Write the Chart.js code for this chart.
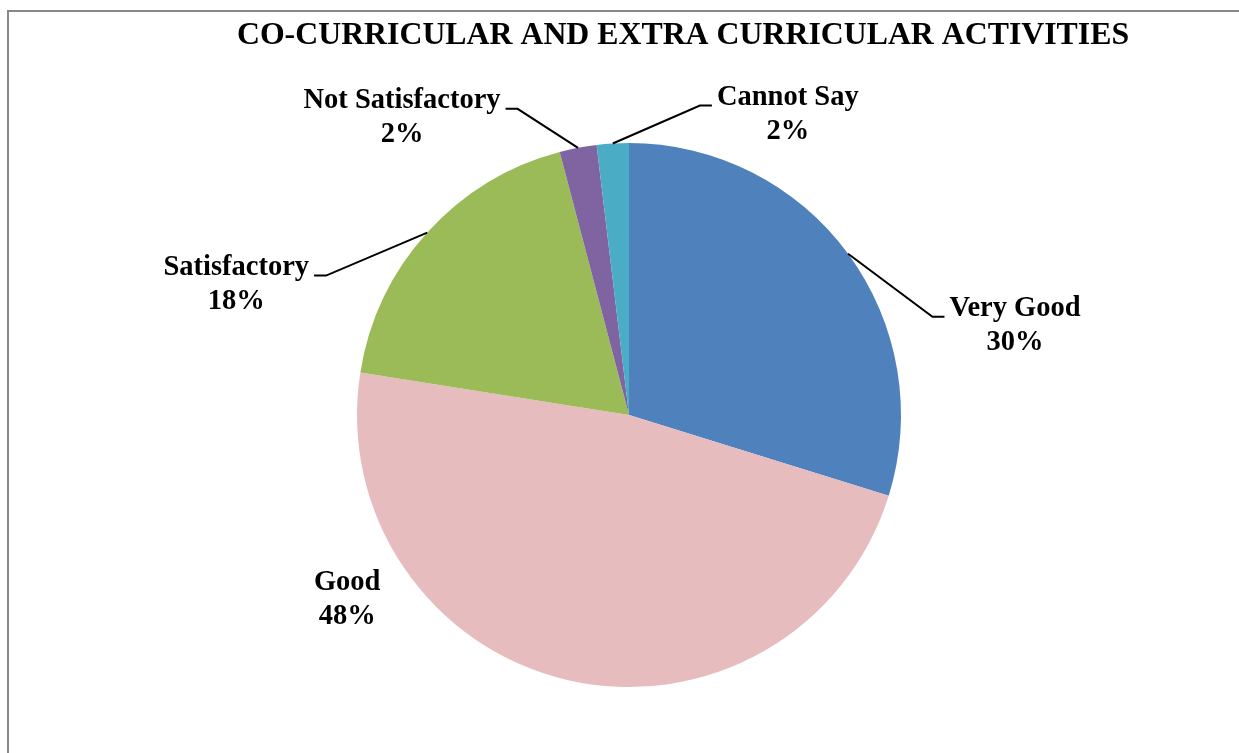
<!DOCTYPE html>
<html>
<head>
<meta charset="utf-8">
<script src="https://cdn.jsdelivr.net/npm/chart.js@4"></script>
<style>
  body { margin: 0; background: #fff; }
  #wrap { position: relative; width: 1239px; height: 753px; }
  #frame { position: absolute; left: 7px; top: 10px; right: 0; bottom: 0; border-left: 2px solid #888; border-top: 2px solid #888; }
</style>
</head>
<body>
<div id="wrap">
  <div id="frame"></div>
  <canvas id="pieChart"></canvas>
</div>
<script>
const title = "CO-CURRICULAR AND EXTRA CURRICULAR ACTIVITIES";
const categories = ["Very Good", "Good", "Satisfactory", "Not Satisfactory", "Cannot Say"];
const values = [29.8, 47.7, 18.4, 2.2, 1.9];
const colors = ["#4f81bd", "#e7bcbe", "#9bbb59", "#8064a2", "#4bacc6"];

// label centre offset from the slice's outer edge midpoint, and leader line on/off
const labelOffsets = [[167, 72], [-220, -80], [-191, 52], [-176, -30], [175, -29]];
const showLeader = [true, false, true, true, true];

const total = values.reduce((a, b) => a + b, 0);
const labelFont = "bold 28.5px 'Liberation Serif', 'Times New Roman', serif";

const pieLabels = {
  id: "pieLabels",
  afterDatasetsDraw(chart) {
    const ctx = chart.ctx;
    const meta = chart.getDatasetMeta(0);
    ctx.save();

    // title
    ctx.font = "bold 31.8px 'Liberation Serif', 'Times New Roman', serif";
    ctx.fillStyle = "#000";
    ctx.textAlign = "center";
    ctx.textBaseline = "middle";
    ctx.fillText(title, 683, 36);

    ctx.font = labelFont;
    meta.data.forEach((arc, i) => {
      const p = arc.getProps(["x", "y", "startAngle", "endAngle", "outerRadius"], true);
      const mid = (p.startAngle + p.endAngle) / 2;
      const ex = p.x + Math.cos(mid) * p.outerRadius;
      const ey = p.y + Math.sin(mid) * p.outerRadius;
      const lx = ex + labelOffsets[i][0];
      const ly = ey + labelOffsets[i][1];
      const pct = Math.round(values[i] / total * 100) + "%";
      const w = Math.max(ctx.measureText(categories[i]).width, ctx.measureText(pct).width);

      if (showLeader[i]) {
        const side = labelOffsets[i][0] > 0 ? -1 : 1;
        const hx1 = lx + side * (w / 2 + 5);
        const hx2 = hx1 + side * 12;
        const hy = ly - 9;
        ctx.strokeStyle = "#000";
        ctx.lineWidth = 2;
        ctx.beginPath();
        ctx.moveTo(ex, ey);
        ctx.lineTo(hx2, hy);
        ctx.lineTo(hx1, hy);
        ctx.stroke();
      }

      ctx.fillStyle = "#000";
      ctx.textAlign = "center";
      ctx.textBaseline = "middle";
      ctx.fillText(categories[i], lx, ly - 17);
      ctx.fillText(pct, lx, ly + 17);
    });
    ctx.restore();
  }
};

new Chart(document.getElementById("pieChart"), {
  type: "pie",
  data: {
    labels: categories,
    datasets: [{
      data: values,
      backgroundColor: colors,
      borderWidth: 0
    }]
  },
  options: {
    responsive: true,
    maintainAspectRatio: false,
    animation: false,
    layout: { padding: { top: 143, bottom: 66, left: 100, right: 81 } },
    plugins: {
      legend: { display: false },
      tooltip: { enabled: false }
    }
  },
  plugins: [pieLabels]
});
</script>
</body>
</html>
